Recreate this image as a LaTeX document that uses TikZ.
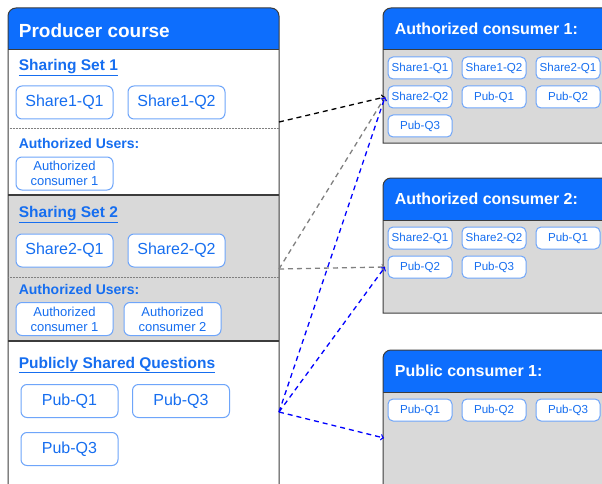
\documentclass[tikz,border=0pt]{standalone}
\usepackage{fontspec}
\setmainfont{Liberation Sans}
\usetikzlibrary{arrows}
\definecolor{blue1}{RGB}{13, 110, 253}
\definecolor{text1}{RGB}{22, 110, 240}
\definecolor{edge1}{RGB}{110, 165, 250}
\definecolor{gray1}{RGB}{217, 217, 217}
\definecolor{line1}{RGB}{60, 60, 60}

\begin{document}
\begin{tikzpicture}[x=1pt, y=-1pt, line width=1pt,
  qbox/.style={draw=edge1, fill=white, rounded corners=6pt, text=text1, inner sep=0pt,
    minimum width=97pt, minimum height=33pt, align=center},
  sbox/.style={draw=edge1, fill=white, rounded corners=5pt, text=text1, inner sep=0pt,
    minimum width=64pt, minimum height=22pt, font=\fontsize{11.6}{13}\selectfont},
  title/.style={anchor=west, text=text1, font=\bfseries\fontsize{15.5}{18}\selectfont},
  users/.style={anchor=west, text=text1, font=\bfseries\fontsize{14}{16}\selectfont},
  head/.style={anchor=west, text=white, font=\bfseries}]
\useasboundingbox (0,0) rectangle (602,484);
\clip (0,0) rectangle (602,484);

% producer course
\fill[white] (8,50) rectangle (279,195);
\fill[gray1] (8,195) rectangle (279,341);
\fill[white] (8,341) rectangle (279,490);
\fill[blue1] (8,50) [rounded corners=8pt] -- (8,8) -- (279,8) [sharp corners] -- (279,50) -- cycle;
\draw[line1] (8,490) [rounded corners=8pt] -- (8,8) -- (279,8) [sharp corners] -- (279,490);
\draw[line1] (8,50) -- (279,50);
\draw[line1, line width=1.2pt] (8,195) -- (279,195) (8,341) -- (279,341);
\draw[gray, densely dotted, line width=0.5pt] (8,128) -- (279,128) (8,277) -- (279,277);

\node[head, font=\bfseries\fontsize{19}{22}\selectfont] (prod) at (15,31) {Producer course};

\node[title] (set1) at (15,68) {\underline{Sharing Set 1}};
\node[qbox, font=\fontsize{16}{18}\selectfont] (s1q1) at (64.5,102.5) {Share1-Q1};
\node[qbox, font=\fontsize{16}{18}\selectfont] (s1q2) at (176.5,102.5) {Share1-Q2};
\node[users] (users1) at (15,143) {Authorized Users:};
\node[qbox, font=\fontsize{13}{15}\selectfont] (s1c1) at (64.5,173.5) {Authorized\\consumer 1};

\node[title] (set2) at (15,215) {\underline{Sharing Set 2}};
\node[qbox, font=\fontsize{16}{18}\selectfont] (s2q1) at (64.5,250.5) {Share2-Q1};
\node[qbox, font=\fontsize{16}{18}\selectfont] (s2q2) at (176.5,250.5) {Share2-Q2};
\node[users] (users2) at (15,289) {Authorized Users:};
\node[qbox, font=\fontsize{13}{15}\selectfont] (s2c1) at (64.5,319) {Authorized\\consumer 1};
\node[qbox, font=\fontsize{13}{15}\selectfont] (s2c2) at (172.5,319) {Authorized\\consumer 2};

\node[title] (pub) at (15,365) {\underline{Publicly Shared Questions}};
\node[qbox, font=\fontsize{16}{18}\selectfont] (pq1) at (69.5,401) {Pub-Q1};
\node[qbox, font=\fontsize{16}{18}\selectfont] (pq3) at (181,401) {Pub-Q3};
\node[qbox, font=\fontsize{16}{18}\selectfont] (pq3b) at (69.5,449) {Pub-Q3};

% consumer courses
\foreach \top/\bot in {8/143, 178/313, 350/490} {
  \fill[gray1] (383,\top+42) rectangle (610,\bot);
  \fill[blue1] (383,\top+42) [rounded corners=8pt] -- (383,\top) -- (610,\top) [sharp corners] -- (610,\top+42) -- cycle;
  \draw[line1] (610,\bot) -- (383,\bot) [rounded corners=8pt] -- (383,\top) -- (610,\top);
  \draw[line1] (383,\top+42) -- (610,\top+42);
}
\node[head, font=\bfseries\fontsize{16}{19}\selectfont] (cons1) at (391,29) {Authorized consumer 1:};
\node[head, font=\bfseries\fontsize{16}{19}\selectfont] (cons2) at (391,199) {Authorized consumer 2:};
\node[head, font=\bfseries\fontsize{16}{19}\selectfont] (cons3) at (391,371) {Public consumer 1:};

\node[sbox] (a1) at (420,68) {Share1-Q1};
\node[sbox] (a2) at (494,68) {Share1-Q2};
\node[sbox] (a3) at (568,68) {Share2-Q1};
\node[sbox] (a4) at (420,97) {Share2-Q2};
\node[sbox] (a5) at (494,97) {Pub-Q1};
\node[sbox] (a6) at (568,97) {Pub-Q2};
\node[sbox] (a7) at (420,126) {Pub-Q3};

\node[sbox] (b1) at (420,238) {Share2-Q1};
\node[sbox] (b2) at (494,238) {Share2-Q2};
\node[sbox] (b3) at (568,238) {Pub-Q1};
\node[sbox] (b4) at (420,267) {Pub-Q2};
\node[sbox] (b5) at (494,267) {Pub-Q3};

\node[sbox] (c1) at (420,410) {Pub-Q1};
\node[sbox] (c2) at (494,410) {Pub-Q2};
\node[sbox] (c3) at (568,410) {Pub-Q3};

% sharing arrows
\coordinate (from1) at (279,122);
\coordinate (from2) at (279,269);
\coordinate (from3) at (279,412);
\coordinate (to1) at (385,97);
\coordinate (to2) at (385,267);
\coordinate (to3) at (384,438);

\draw[dash pattern=on 5pt off 4pt, line width=1.3pt, ->] (from1) -- (to1);
\foreach \to in {to1, to2}
  \draw[gray, dash pattern=on 5pt off 4pt, line width=1.3pt, ->] (from2) -- (\to);
\foreach \to in {to1, to2, to3}
  \draw[blue, dash pattern=on 5pt off 4pt, line width=1.3pt, ->] (from3) -- (\to);
\end{tikzpicture}
\end{document}
